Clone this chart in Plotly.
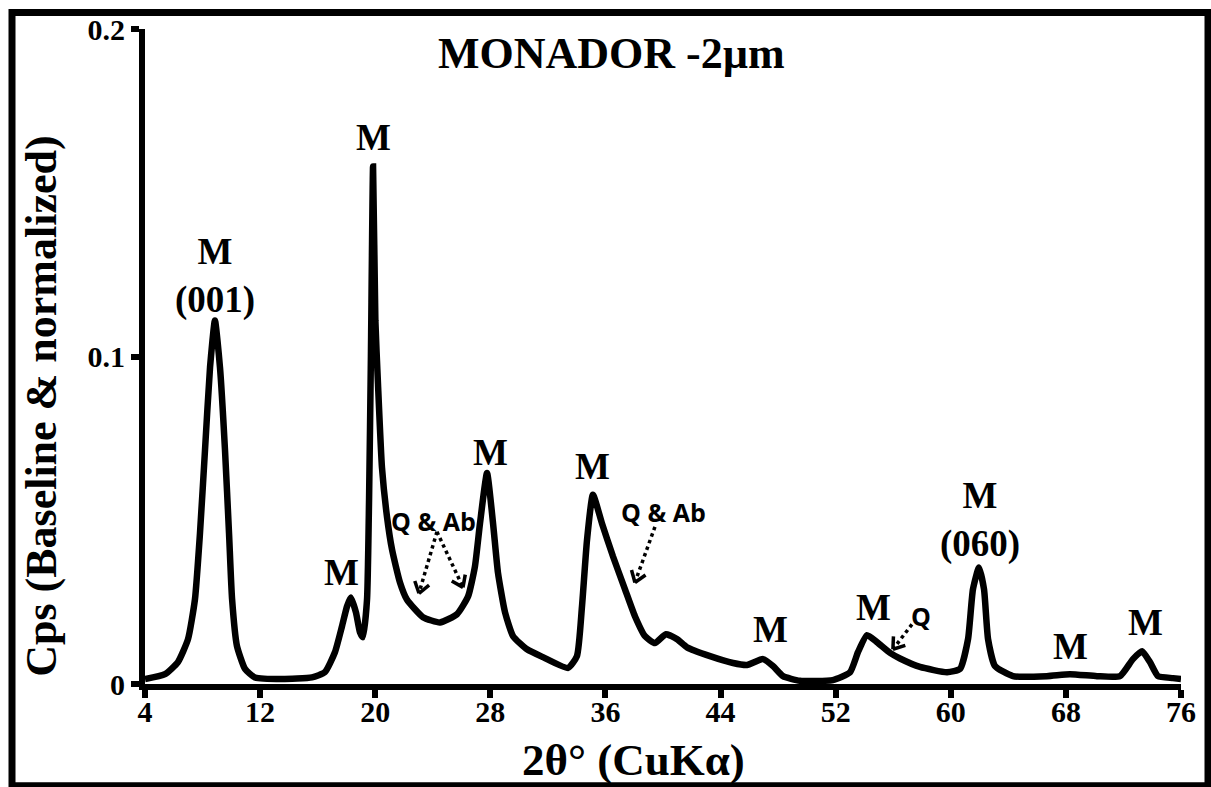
import math
import plotly.graph_objects as go

# ---- data ----
two_theta = [4.0, 5.39, 6.29, 6.99, 7.47, 7.82, 8.17, 8.52, 8.86, 9.21, 9.56, 9.84, 10.05, 10.39,
             10.95, 11.64, 13.5, 15.6, 16.5, 17.2, 17.69, 18.04, 18.3, 18.66, 18.94, 19.15, 19.43,
             19.57, 19.7, 19.85, 20.01, 20.19, 20.47, 20.82, 21.17, 21.72, 22.2, 23.32, 24.5, 25.68,
             26.45, 26.93, 27.28, 27.77, 28.19, 28.53, 29.02, 29.58, 30.55, 31.66, 33.4, 34.02,
             34.37, 34.72, 35.13, 35.76, 36.52, 37.36, 38.05, 38.75, 39.44, 40.2, 40.97, 41.67,
             43.27, 44.87, 45.84, 46.95, 47.64, 48.34, 49.52, 51.8, 53.0, 53.55, 54.18, 54.87,
             55.78, 56.47, 57.86, 59.74, 60.64, 61.2, 61.54, 61.96, 62.31, 62.59, 63.07, 64.32,
             66.68, 68.28, 70.16, 71.76, 72.66, 73.29, 73.84, 74.4, 75.44, 76.0]
cps = [0.0015, 0.003, 0.0067, 0.0137, 0.0258, 0.046, 0.0714, 0.0967, 0.111, 0.0967, 0.0714, 0.046,
       0.026, 0.0116, 0.0046, 0.002, 0.0015, 0.002, 0.0036, 0.0097, 0.0176, 0.0237, 0.0264, 0.0219,
       0.0158, 0.0143, 0.0258, 0.056, 0.1, 0.158, 0.111, 0.0918, 0.066, 0.051, 0.041, 0.031,
       0.0258, 0.0204, 0.0188, 0.0213, 0.0267, 0.0359, 0.049, 0.0644, 0.049, 0.034, 0.0219,
       0.0146, 0.0106, 0.0082, 0.0049, 0.0085, 0.0237, 0.044, 0.0578, 0.049, 0.039, 0.0289,
       0.0207, 0.0146, 0.0125, 0.0152, 0.0137, 0.0112, 0.0085, 0.0064, 0.0058, 0.0076, 0.0055,
       0.0024, 0.001, 0.0012, 0.0036, 0.0097, 0.0149, 0.0128, 0.0095, 0.0078, 0.0052, 0.0036,
       0.0046, 0.0137, 0.0289, 0.0356, 0.0289, 0.0137, 0.0055, 0.0024, 0.0024, 0.003, 0.0024,
       0.0024, 0.0076, 0.01, 0.0067, 0.0024, 0.0018, 0.0015]

x_ticks = [4, 12, 20, 28, 36, 44, 52, 60, 68, 76]
y_ticks = [0, 0.1, 0.2]
y_tick_labels = ["0", "0.1", "0.2"]

peak_labels = ["M<br>(001)", "M", "M", "M", "M", "M", "M", "M<br>(060)", "M", "M"]
peak_label_x = [8.86, 17.69, 19.85, 27.98, 35.13, 47.44, 54.6, 62.03, 68.29, 73.5]
peak_label_y = [0.1247, 0.034, 0.167, 0.0708, 0.0663, 0.0167, 0.0234, 0.0502, 0.0116, 0.0188]

phase_labels = ["Q &amp; Ab", "Q &amp; Ab", "Q"]
phase_label_x = [24.08, 40.0, 57.93]
phase_label_y = [0.0498, 0.0526, 0.0207]

# dotted arrows: (start x, start y, tip x, tip y)
arrows = [(24.29, 0.0465, 23.04, 0.0277),
          (24.29, 0.0465, 26.10, 0.0295),
          (39.44, 0.048, 38.05, 0.031),
          (57.30, 0.0182, 55.98, 0.0106)]

# ---- layout geometry ----
W, H = 1211, 787
ML, MR, MT, MB = 145, 30, 27, 103
PW, PH = W - ML - MR, H - MT - MB
XR = [4, 76]
YR = [0, 0.2]
sx = PW / (XR[1] - XR[0])
sy = PH / (YR[1] - YR[0])

SERIF = "Liberation Serif, Times New Roman, serif"
SANS = "Open Sans, Arial, sans-serif"

fig = go.Figure()
fig.add_trace(go.Scatter(x=two_theta, y=cps, mode="lines",
                         line=dict(color="black", width=6.5, shape="spline", smoothing=0.5),
                         hoverinfo="skip", showlegend=False))

shapes = []
# outer frame
shapes.append(dict(type="rect", xref="paper", yref="paper",
                   x0=(12 - ML) / PW, x1=(1208 - ML) / PW,
                   y0=(H - MB - 786) / PH, y1=(H - MB - 10.5) / PH,
                   line=dict(color="black", width=7), fillcolor="rgba(0,0,0,0)", layer="above"))

for (x0, y0, x1, y1) in arrows:
    shapes.append(dict(type="line", xref="x", yref="y", x0=x0, y0=y0, x1=x1, y1=y1,
                       line=dict(color="black", width=3.5, dash="dot")))
    # chevron head computed in pixel space
    dxp = (x1 - x0) * sx
    dyp = (y1 - y0) * sy
    L = math.hypot(dxp, dyp)
    ux, uy = dxp / L, dyp / L
    hl = 13
    for ang in (math.radians(35), -math.radians(35)):
        bx = -(ux * math.cos(ang) - uy * math.sin(ang)) * hl
        by = -(ux * math.sin(ang) + uy * math.cos(ang)) * hl
        shapes.append(dict(type="line", xref="x", yref="y",
                           x0=x1, y0=y1, x1=x1 + bx / sx, y1=y1 + by / sy,
                           line=dict(color="black", width=3.5)))

annotations = []
for t, x, y in zip(peak_labels, peak_label_x, peak_label_y):
    annotations.append(dict(text=t, x=x, y=y, xref="x", yref="y", showarrow=False,
                            xanchor="center", yanchor="middle",
                            font=dict(family=SERIF, size=37, color="black", weight="bold")))
for t, x, y in zip(phase_labels, phase_label_x, phase_label_y):
    annotations.append(dict(text=t, x=x, y=y, xref="x", yref="y", showarrow=False,
                            xanchor="center", yanchor="middle",
                            font=dict(family=SANS, size=25, color="black", weight="bold")))

annotations.append(dict(text="MONADOR -2µm", x=(611 - ML) / PW, y=(H - MB - 52) / PH,
                        xref="paper", yref="paper", showarrow=False,
                        xanchor="center", yanchor="middle",
                        font=dict(family=SERIF, size=44, color="black", weight="bold")))
annotations.append(dict(text="2θ° (CuKα)", x=(633 - ML) / PW, y=(H - MB - 760) / PH,
                        xref="paper", yref="paper", showarrow=False,
                        xanchor="center", yanchor="middle",
                        font=dict(family=SERIF, size=45, color="black", weight="bold")))
annotations.append(dict(text="Cps (Baseline &amp; normalized)", x=(42 - ML) / PW,
                        y=(H - MB - 406) / PH, xref="paper", yref="paper", showarrow=False,
                        xanchor="center", yanchor="middle", textangle=-90,
                        font=dict(family=SERIF, size=44, color="black", weight="bold")))

fig.update_layout(
    width=W, height=H,
    margin=dict(l=ML, r=MR, t=MT, b=MB, pad=0),
    paper_bgcolor="white", plot_bgcolor="white",
    shapes=shapes, annotations=annotations,
    xaxis=dict(range=XR, tickvals=x_ticks, ticktext=[str(v) for v in x_ticks],
               showgrid=False, zeroline=False, showline=True, linecolor="black", linewidth=6,
               ticks="outside", ticklen=8, tickwidth=6, tickcolor="black",
               ticklabelstandoff=-12,
               tickfont=dict(family=SERIF, size=30, color="black", weight="bold")),
    yaxis=dict(range=YR, tickvals=y_ticks, ticktext=y_tick_labels,
               showgrid=False, zeroline=False, showline=True, linecolor="black", linewidth=6,
               ticks="outside", ticklen=8, tickwidth=6, tickcolor="black",
               tickfont=dict(family=SERIF, size=30, color="black", weight="bold")),
)

fig.write_html("out.html")
